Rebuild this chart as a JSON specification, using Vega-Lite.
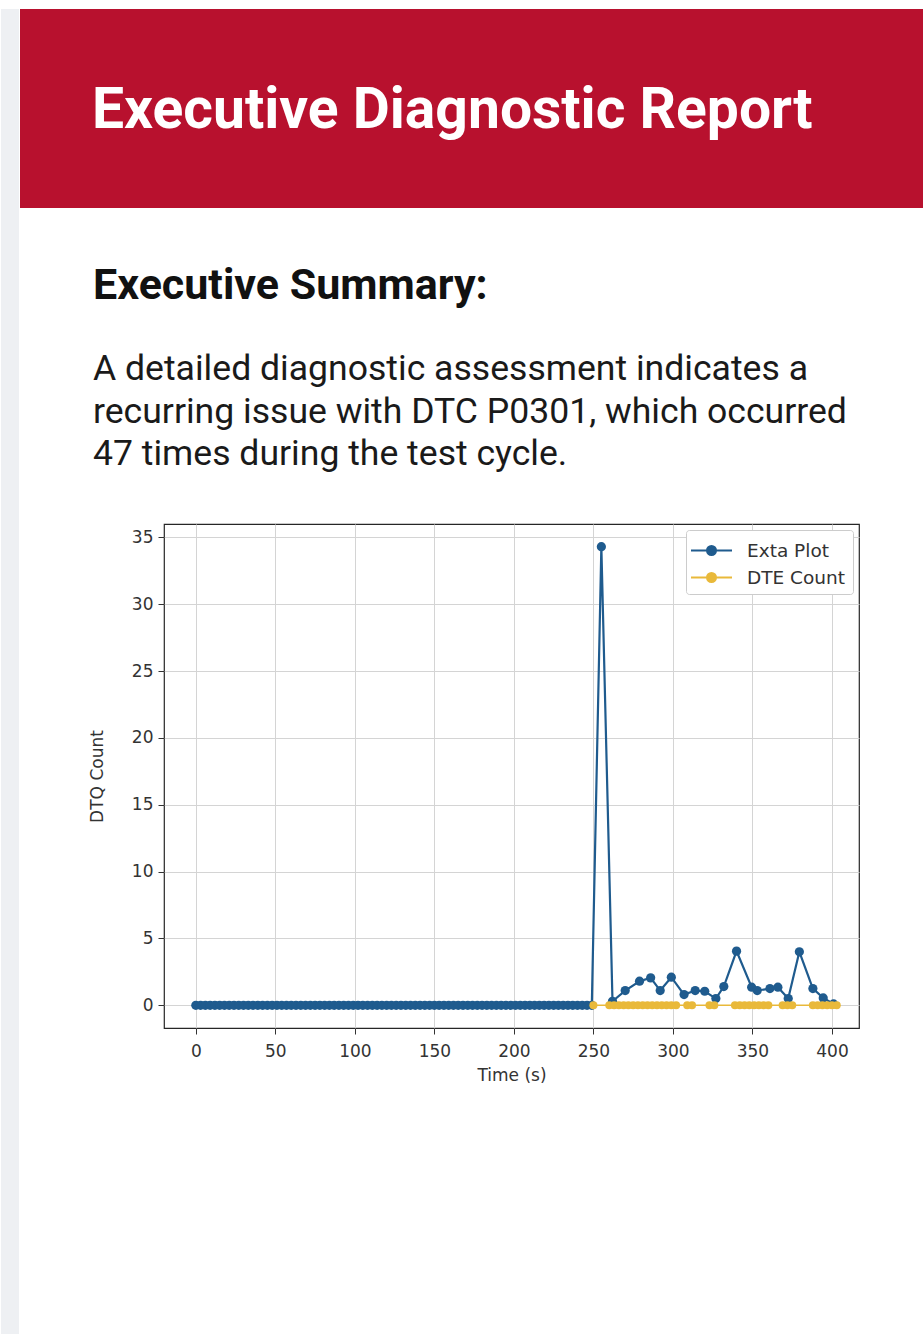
{
  "$schema": "https://vega.github.io/schema/vega-lite/v6.json",
  "background": "white",
  "padding": {"left": 0, "top": 8, "right": 0, "bottom": 0},
  "spacing": 0,
  "config": {"view": {"stroke": null}, "font": "Roboto"},
  "resolve": {"scale": {"color": "independent"}, "legend": {"color": "independent"}},
  "hconcat": [
    {
      "width": 18,
      "height": 1326,
      "view": {"fill": "#EEF0F3", "stroke": null},
      "data": {"values": [{}]},
      "mark": {"type": "rule", "opacity": 0},
      "encoding": {}
    },
    {
      "spacing": 56,
      "resolve": {"scale": {"color": "independent"}, "legend": {"color": "independent"}},
      "vconcat": [
        {
          "width": 905,
          "height": 199,
          "view": {"fill": "#B8112E", "stroke": null},
          "title": {
            "text": "Executive Diagnostic Report",
            "anchor": "start",
            "frame": "group",
            "orient": "top",
            "dx": 72,
            "offset": -176,
            "baseline": "alphabetic",
            "color": "white",
            "font": "Roboto",
            "fontSize": 57,
            "fontWeight": "bold"
          },
          "data": {"values": [{}]},
          "mark": {"type": "rule", "opacity": 0},
          "encoding": {}
        },
        {
          "spacing": 0,
          "resolve": {"scale": {"color": "independent"}, "legend": {"color": "independent"}},
          "hconcat": [
            {
              "width": 67,
              "height": 10,
              "data": {"values": [{}]},
              "mark": {"type": "rule", "opacity": 0},
              "encoding": {}
            },
            {
              "width": 695,
              "height": 504,
              "view": {"stroke": "#262626", "strokeWidth": 1.2},
              "title": {
                "text": "Executive Summary:",
                "subtitle": [
                  "A detailed diagnostic assessment indicates a",
                  "recurring issue with DTC P0301, which occurred",
                  "47 times during the test cycle."
                ],
                "anchor": "start",
                "frame": "group",
                "dx": -71,
                "offset": 51,
                "font": "Roboto",
                "fontSize": 43,
                "fontWeight": "bold",
                "color": "#111111",
                "subtitleFont": "Roboto",
                "subtitleFontSize": 35.6,
                "subtitleColor": "#1a1a1a",
                "subtitleLineHeight": 42.5,
                "subtitlePadding": 44
              },
              "data": {
                "values": [
                  {"series": "Exta Plot", "time": 0, "count": 0},
                  {"series": "Exta Plot", "time": 3, "count": 0},
                  {"series": "Exta Plot", "time": 6, "count": 0},
                  {"series": "Exta Plot", "time": 9, "count": 0},
                  {"series": "Exta Plot", "time": 12, "count": 0},
                  {"series": "Exta Plot", "time": 15, "count": 0},
                  {"series": "Exta Plot", "time": 18, "count": 0},
                  {"series": "Exta Plot", "time": 21, "count": 0},
                  {"series": "Exta Plot", "time": 24, "count": 0},
                  {"series": "Exta Plot", "time": 27, "count": 0},
                  {"series": "Exta Plot", "time": 30, "count": 0},
                  {"series": "Exta Plot", "time": 33, "count": 0},
                  {"series": "Exta Plot", "time": 36, "count": 0},
                  {"series": "Exta Plot", "time": 39, "count": 0},
                  {"series": "Exta Plot", "time": 42, "count": 0},
                  {"series": "Exta Plot", "time": 45, "count": 0},
                  {"series": "Exta Plot", "time": 48, "count": 0},
                  {"series": "Exta Plot", "time": 51, "count": 0},
                  {"series": "Exta Plot", "time": 54, "count": 0},
                  {"series": "Exta Plot", "time": 57, "count": 0},
                  {"series": "Exta Plot", "time": 60, "count": 0},
                  {"series": "Exta Plot", "time": 63, "count": 0},
                  {"series": "Exta Plot", "time": 66, "count": 0},
                  {"series": "Exta Plot", "time": 69, "count": 0},
                  {"series": "Exta Plot", "time": 72, "count": 0},
                  {"series": "Exta Plot", "time": 75, "count": 0},
                  {"series": "Exta Plot", "time": 78, "count": 0},
                  {"series": "Exta Plot", "time": 81, "count": 0},
                  {"series": "Exta Plot", "time": 84, "count": 0},
                  {"series": "Exta Plot", "time": 87, "count": 0},
                  {"series": "Exta Plot", "time": 90, "count": 0},
                  {"series": "Exta Plot", "time": 93, "count": 0},
                  {"series": "Exta Plot", "time": 96, "count": 0},
                  {"series": "Exta Plot", "time": 99, "count": 0},
                  {"series": "Exta Plot", "time": 102, "count": 0},
                  {"series": "Exta Plot", "time": 105, "count": 0},
                  {"series": "Exta Plot", "time": 108, "count": 0},
                  {"series": "Exta Plot", "time": 111, "count": 0},
                  {"series": "Exta Plot", "time": 114, "count": 0},
                  {"series": "Exta Plot", "time": 117, "count": 0},
                  {"series": "Exta Plot", "time": 120, "count": 0},
                  {"series": "Exta Plot", "time": 123, "count": 0},
                  {"series": "Exta Plot", "time": 126, "count": 0},
                  {"series": "Exta Plot", "time": 129, "count": 0},
                  {"series": "Exta Plot", "time": 132, "count": 0},
                  {"series": "Exta Plot", "time": 135, "count": 0},
                  {"series": "Exta Plot", "time": 138, "count": 0},
                  {"series": "Exta Plot", "time": 141, "count": 0},
                  {"series": "Exta Plot", "time": 144, "count": 0},
                  {"series": "Exta Plot", "time": 147, "count": 0},
                  {"series": "Exta Plot", "time": 150, "count": 0},
                  {"series": "Exta Plot", "time": 153, "count": 0},
                  {"series": "Exta Plot", "time": 156, "count": 0},
                  {"series": "Exta Plot", "time": 159, "count": 0},
                  {"series": "Exta Plot", "time": 162, "count": 0},
                  {"series": "Exta Plot", "time": 165, "count": 0},
                  {"series": "Exta Plot", "time": 168, "count": 0},
                  {"series": "Exta Plot", "time": 171, "count": 0},
                  {"series": "Exta Plot", "time": 174, "count": 0},
                  {"series": "Exta Plot", "time": 177, "count": 0},
                  {"series": "Exta Plot", "time": 180, "count": 0},
                  {"series": "Exta Plot", "time": 183, "count": 0},
                  {"series": "Exta Plot", "time": 186, "count": 0},
                  {"series": "Exta Plot", "time": 189, "count": 0},
                  {"series": "Exta Plot", "time": 192, "count": 0},
                  {"series": "Exta Plot", "time": 195, "count": 0},
                  {"series": "Exta Plot", "time": 198, "count": 0},
                  {"series": "Exta Plot", "time": 201, "count": 0},
                  {"series": "Exta Plot", "time": 204, "count": 0},
                  {"series": "Exta Plot", "time": 207, "count": 0},
                  {"series": "Exta Plot", "time": 210, "count": 0},
                  {"series": "Exta Plot", "time": 213, "count": 0},
                  {"series": "Exta Plot", "time": 216, "count": 0},
                  {"series": "Exta Plot", "time": 219, "count": 0},
                  {"series": "Exta Plot", "time": 222, "count": 0},
                  {"series": "Exta Plot", "time": 225, "count": 0},
                  {"series": "Exta Plot", "time": 228, "count": 0},
                  {"series": "Exta Plot", "time": 231, "count": 0},
                  {"series": "Exta Plot", "time": 234, "count": 0},
                  {"series": "Exta Plot", "time": 237, "count": 0},
                  {"series": "Exta Plot", "time": 240, "count": 0},
                  {"series": "Exta Plot", "time": 243, "count": 0},
                  {"series": "Exta Plot", "time": 246, "count": 0},
                  {"series": "Exta Plot", "time": 249, "count": 0},
                  {"series": "Exta Plot", "time": 255, "count": 34.3},
                  {"series": "Exta Plot", "time": 262, "count": 0.3},
                  {"series": "Exta Plot", "time": 270, "count": 1.1},
                  {"series": "Exta Plot", "time": 279, "count": 1.8},
                  {"series": "Exta Plot", "time": 286, "count": 2.05},
                  {"series": "Exta Plot", "time": 292, "count": 1.1},
                  {"series": "Exta Plot", "time": 299, "count": 2.1},
                  {"series": "Exta Plot", "time": 307, "count": 0.8},
                  {"series": "Exta Plot", "time": 314, "count": 1.1},
                  {"series": "Exta Plot", "time": 320, "count": 1.05},
                  {"series": "Exta Plot", "time": 327, "count": 0.5},
                  {"series": "Exta Plot", "time": 332, "count": 1.4},
                  {"series": "Exta Plot", "time": 340, "count": 4.05},
                  {"series": "Exta Plot", "time": 349.5, "count": 1.35},
                  {"series": "Exta Plot", "time": 353, "count": 1.1},
                  {"series": "Exta Plot", "time": 361, "count": 1.25},
                  {"series": "Exta Plot", "time": 366, "count": 1.35},
                  {"series": "Exta Plot", "time": 372.5, "count": 0.5},
                  {"series": "Exta Plot", "time": 379.5, "count": 4.0},
                  {"series": "Exta Plot", "time": 388, "count": 1.25},
                  {"series": "Exta Plot", "time": 394.5, "count": 0.55},
                  {"series": "Exta Plot", "time": 401, "count": 0.1},
                  {"series": "DTE Count", "time": 250, "count": 0},
                  {"series": "DTE Count", "time": 260, "count": 0},
                  {"series": "DTE Count", "time": 263, "count": 0},
                  {"series": "DTE Count", "time": 266, "count": 0},
                  {"series": "DTE Count", "time": 269, "count": 0},
                  {"series": "DTE Count", "time": 272, "count": 0},
                  {"series": "DTE Count", "time": 275, "count": 0},
                  {"series": "DTE Count", "time": 278, "count": 0},
                  {"series": "DTE Count", "time": 281, "count": 0},
                  {"series": "DTE Count", "time": 284, "count": 0},
                  {"series": "DTE Count", "time": 287, "count": 0},
                  {"series": "DTE Count", "time": 290, "count": 0},
                  {"series": "DTE Count", "time": 293, "count": 0},
                  {"series": "DTE Count", "time": 296, "count": 0},
                  {"series": "DTE Count", "time": 299, "count": 0},
                  {"series": "DTE Count", "time": 302, "count": 0},
                  {"series": "DTE Count", "time": 309, "count": 0},
                  {"series": "DTE Count", "time": 312, "count": 0},
                  {"series": "DTE Count", "time": 323, "count": 0},
                  {"series": "DTE Count", "time": 326, "count": 0},
                  {"series": "DTE Count", "time": 339, "count": 0},
                  {"series": "DTE Count", "time": 342, "count": 0},
                  {"series": "DTE Count", "time": 345, "count": 0},
                  {"series": "DTE Count", "time": 348, "count": 0},
                  {"series": "DTE Count", "time": 351, "count": 0},
                  {"series": "DTE Count", "time": 354, "count": 0},
                  {"series": "DTE Count", "time": 357, "count": 0},
                  {"series": "DTE Count", "time": 360, "count": 0},
                  {"series": "DTE Count", "time": 369, "count": 0},
                  {"series": "DTE Count", "time": 372, "count": 0},
                  {"series": "DTE Count", "time": 375, "count": 0},
                  {"series": "DTE Count", "time": 388, "count": 0},
                  {"series": "DTE Count", "time": 391, "count": 0},
                  {"series": "DTE Count", "time": 394, "count": 0},
                  {"series": "DTE Count", "time": 397, "count": 0},
                  {"series": "DTE Count", "time": 400, "count": 0},
                  {"series": "DTE Count", "time": 403, "count": 0}
                ]
              },
              "encoding": {
                "x": {
                  "field": "time",
                  "type": "quantitative",
                  "scale": {"domain": [-20, 417], "nice": false, "zero": false},
                  "axis": {
                    "title": "Time (s)",
                    "values": [0, 50, 100, 150, 200, 250, 300, 350, 400],
                    "grid": true,
                    "gridColor": "#d4d4d4",
                    "gridWidth": 1,
                    "domain": false,
                    "ticks": true,
                    "tickColor": "#333333",
                    "tickSize": 6,
                    "labelFont": "DejaVu Sans",
                    "labelFontSize": 17,
                    "labelColor": "#333333",
                    "labelPadding": 9,
                    "titleFont": "DejaVu Sans",
                    "titleFontSize": 17,
                    "titleFontWeight": "normal",
                    "titleColor": "#333333",
                    "titlePadding": 8
                  }
                },
                "y": {
                  "field": "count",
                  "type": "quantitative",
                  "scale": {"domain": [-1.7, 36], "nice": false, "zero": false},
                  "axis": {
                    "title": "DTQ Count",
                    "values": [0, 5, 10, 15, 20, 25, 30, 35],
                    "grid": true,
                    "gridColor": "#d4d4d4",
                    "gridWidth": 1,
                    "domain": false,
                    "ticks": true,
                    "tickColor": "#333333",
                    "tickSize": 6,
                    "labelFont": "DejaVu Sans",
                    "labelFontSize": 17,
                    "labelColor": "#333333",
                    "labelPadding": 5,
                    "titleFont": "DejaVu Sans",
                    "titleFontSize": 17,
                    "titleFontWeight": "normal",
                    "titleColor": "#333333",
                    "titlePadding": 25
                  }
                },
                "color": {
                  "field": "series",
                  "type": "nominal",
                  "scale": {"domain": ["Exta Plot", "DTE Count"], "range": ["#1f5b8e", "#e9b93a"]},
                  "legend": {
                    "title": null,
                    "orient": "top-right",
                    "offset": 6,
                    "fillColor": "white",
                    "strokeColor": "#cccccc",
                    "cornerRadius": 3,
                    "padding": 7,
                    "labelFont": "DejaVu Sans",
                    "labelFontSize": 18.5,
                    "labelColor": "#333333",
                    "labelOffset": 22,
                    "labelLimit": 200,
                    "rowPadding": 4,
                    "symbolOffset": 5,
                    "symbolType": "M-1.64,0H1.64M-0.36,0A0.36,0.36,0,1,0,0.36,0A0.36,0.36,0,1,0,-0.36,0Z",
                    "symbolSize": 625,
                    "symbolStrokeWidth": 2,
                    "encode": {
                      "symbols": {
                        "update": {
                          "fill": {"signal": "datum.value === 'Exta Plot' ? '#1f5b8e' : '#e9b93a'"},
                          "stroke": {"signal": "datum.value === 'Exta Plot' ? '#1f5b8e' : '#e9b93a'"},
                          "opacity": {"value": 1}
                        }
                      }
                    }
                  }
                }
              },
              "layer": [
                {
                  "transform": [{"filter": "datum.series === 'Exta Plot'"}],
                  "mark": {"type": "line", "strokeWidth": 2.2, "point": {"filled": true, "size": 85, "opacity": 1}}
                },
                {
                  "transform": [{"filter": "datum.series === 'DTE Count'"}],
                  "mark": {"type": "line", "strokeWidth": 1.5, "point": {"filled": true, "size": 65, "opacity": 1}}
                }
              ]
            }
          ]
        }
      ]
    }
  ]
}
